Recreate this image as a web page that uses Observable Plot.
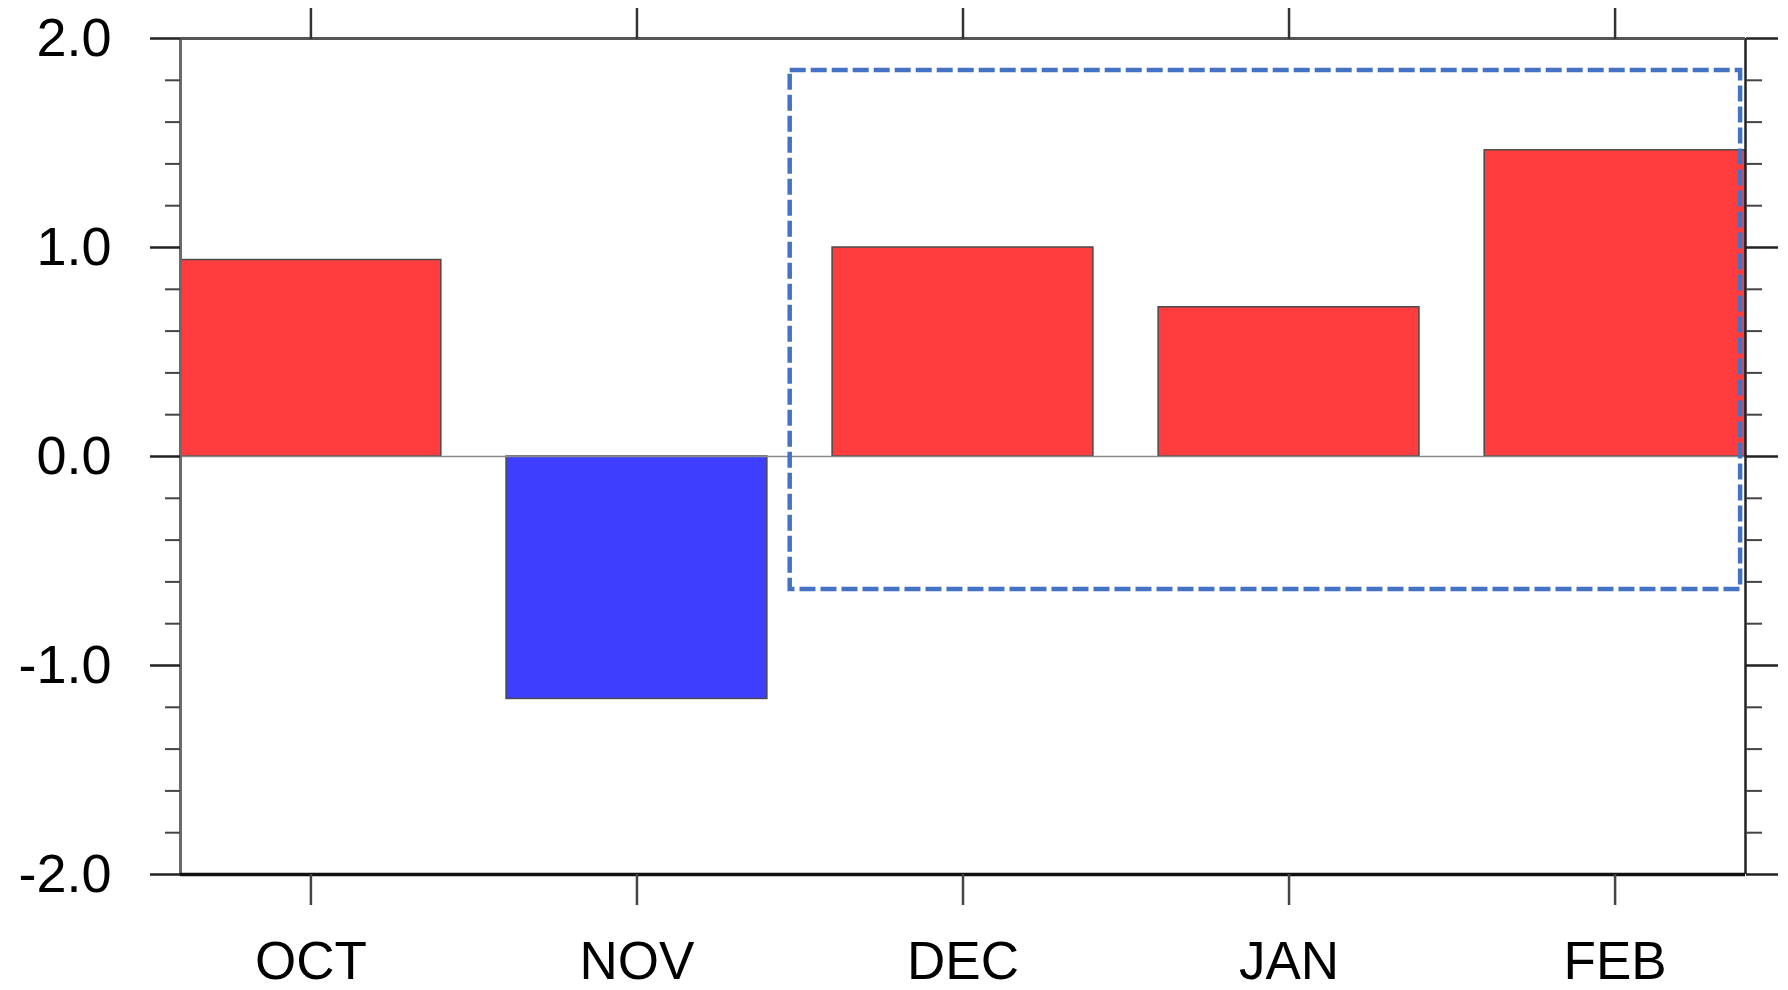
<!DOCTYPE html>
<html>
<head>
<meta charset="utf-8">
<script src="https://cdn.jsdelivr.net/npm/d3@7"></script>
<script src="https://cdn.jsdelivr.net/npm/@observablehq/plot@0.6"></script>
<style>
  html, body { margin: 0; padding: 0; background: #fff; }
  #chart svg { display: block; }
</style>
</head>
<body>
<div id="chart"></div>
<script>
const months = ["OCT", "NOV", "DEC", "JAN", "FEB"];
const values = [0.94, -1.16, 1.0, 0.714, 1.465];
const yMajorTicks = [-2, -1, 0, 1, 2];
const yMinorTicks = [-1.8, -1.6, -1.4, -1.2, -0.8, -0.6, -0.4, -0.2, 0.2, 0.4, 0.6, 0.8, 1.2, 1.4, 1.6, 1.8];
const xDomain = [-0.4, 4.4];
const yDomain = [-2, 2];
const barHalfWidth = 0.4;
// highlighted period box (DEC–FEB), in data units
const boxX = [1.47, 4.385];
const boxY = [-0.636, 1.847];

const bars = months.map((m, i) => ({month: m, i, value: values[i]}));
const box = [{x1: boxX[0], x2: boxX[1], y1: boxY[0], y2: boxY[1]}];

const font = "'Liberation Sans', Arial, Helvetica, sans-serif";

const chart = Plot.plot({
  width: 1788,
  height: 990,
  marginLeft: 180,
  marginRight: 43,
  marginTop: 38,
  marginBottom: 116,
  style: {fontFamily: font, fontSize: "54px", color: "#000", background: "#fff"},
  x: {type: "linear", domain: xDomain},
  y: {domain: yDomain},
  marks: [
    Plot.rectY(bars, {
      x1: d => d.i - barHalfWidth,
      x2: d => d.i + barHalfWidth,
      y1: 0,
      y2: "value",
      fill: d => d.value >= 0 ? "#FF3D3F" : "#3E3EFF",
      stroke: "#4a4a4a",
      strokeWidth: 1.5
    }),
    Plot.ruleY([0], {stroke: "#8a8a8a", strokeWidth: 1.5}),
    Plot.rect(box, {
      x1: "x1", x2: "x2", y1: "y1", y2: "y2",
      fill: "none",
      stroke: "#4472C4",
      strokeWidth: 4.5,
      strokeDasharray: "16,5"
    }),
    // frame
    Plot.ruleX([xDomain[0]], {stroke: "#6b6b6b", strokeWidth: 3}),
    Plot.ruleX([xDomain[1]], {stroke: "#222", strokeWidth: 2.5}),
    Plot.ruleY([yDomain[1]], {stroke: "#555", strokeWidth: 3}),
    Plot.ruleY([yDomain[0]], {stroke: "#111", strokeWidth: 3.5}),
    // left axis
    Plot.axisY({
      anchor: "left", ticks: yMajorTicks, tickSize: 30, tickPadding: 39,
      tickFormat: d => d.toFixed(1), stroke: "#222", strokeWidth: 2.5,
      fontSize: 54, fill: "#000"
    }),
    Plot.axisY({anchor: "left", ticks: yMinorTicks, tickSize: 15, text: null, stroke: "#444", strokeWidth: 2}),
    // right axis
    Plot.axisY({anchor: "right", ticks: yMajorTicks, tickSize: 32, text: null, stroke: "#222", strokeWidth: 2.5}),
    Plot.axisY({anchor: "right", ticks: yMinorTicks, tickSize: 16, text: null, stroke: "#444", strokeWidth: 2}),
    // bottom axis
    Plot.axisX({
      anchor: "bottom", ticks: months.map((m, i) => i), tickSize: 31, tickPadding: 36,
      tickFormat: i => months[i], stroke: "#444", strokeWidth: 2.5,
      fontSize: 53, fill: "#000", textAnchor: "middle"
    }),
    // top axis
    Plot.axisX({anchor: "top", ticks: months.map((m, i) => i), tickSize: 31, text: null, stroke: "#333", strokeWidth: 2.5})
  ]
});

document.getElementById("chart").appendChild(chart);
</script>
</body>
</html>
